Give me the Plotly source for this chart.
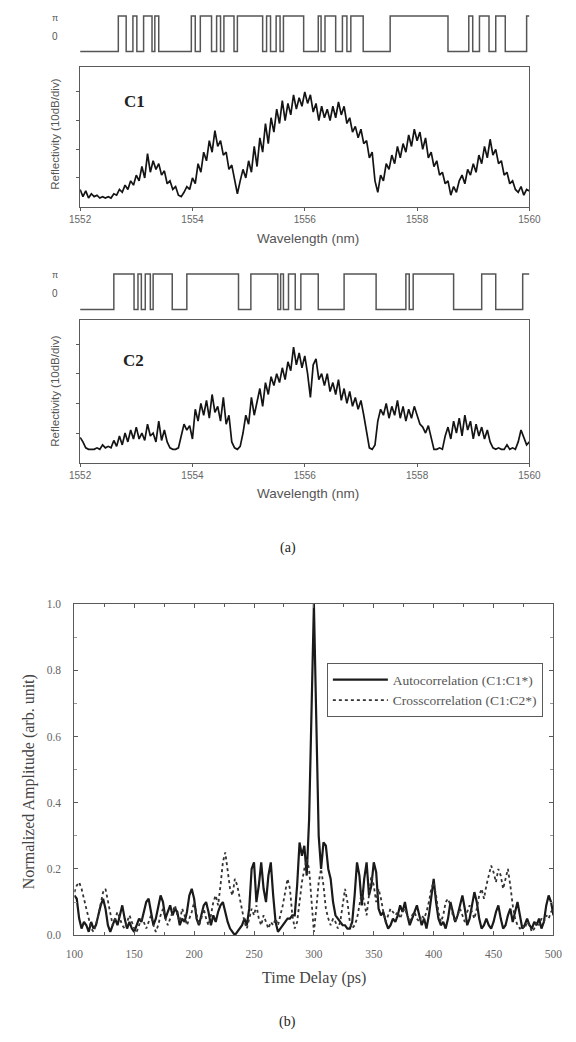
import numpy as np
import plotly.graph_objects as go

W, H = 576, 1042

# ---------------- data ----------------
wavelength_nm = np.round(np.arange(1552.0, 1560.0001, 0.05), 2)

c1_reflectivity = [
    0.6, 0.35, 0.55, 0.3, 0.45, 0.35, 0.4, 0.3, 0.35, 0.3,
    0.35, 0.3, 0.45, 0.4, 0.6, 0.5, 0.75, 0.6, 0.9, 0.75,
    1.1, 0.9, 1.4, 1.0, 1.85, 1.2, 1.6, 1.3, 1.5, 1.1,
    1.25, 0.8, 0.9, 0.6, 0.7, 0.4, 0.35, 0.5, 0.7, 0.6,
    1.0, 0.8, 1.5, 1.2, 1.9, 1.6, 2.3, 1.9, 2.65, 2.1,
    2.3, 1.8, 1.9, 1.3, 1.45, 1.0, 0.45, 0.9, 1.3, 1.0,
    1.6, 1.2, 2.1, 1.4, 2.4, 1.9, 2.9, 2.2, 3.1, 2.6,
    3.4, 2.9, 3.7, 3.0, 3.6, 3.2, 3.9, 3.4, 3.8, 3.5,
    4.0, 3.6, 3.9, 3.3, 3.6, 3.0, 3.5, 3.1, 3.4, 3.0,
    3.5, 3.1, 3.65, 3.2, 3.5, 2.9, 3.1, 2.6, 2.8, 2.4,
    2.7, 2.2, 2.3, 1.7, 1.9, 0.9, 0.5, 1.1, 0.9, 1.5,
    1.3, 1.8, 1.5, 2.1, 1.7, 2.2, 1.9, 2.5, 2.1, 2.7,
    2.3, 2.6, 2.0, 2.4, 1.7, 1.9, 1.4, 1.6, 1.1, 1.2,
    0.8, 0.9, 0.4, 0.7, 0.5, 0.9, 1.1, 0.8, 1.3, 1.1,
    1.5, 1.2, 1.8, 1.5, 2.1, 1.7, 2.35, 1.8, 2.0, 1.5,
    1.6, 1.1, 1.2, 0.8, 0.9, 0.6, 0.5, 0.7, 0.4, 0.6,
    0.55,
]

c2_reflectivity = [
    0.85, 0.7, 0.5, 0.45, 0.45, 0.45, 0.5, 0.45, 0.6, 0.5,
    0.55, 0.5, 0.75, 0.55, 0.9, 0.6, 1.0, 0.7, 1.1, 0.8,
    1.2, 0.8, 1.0, 0.75, 1.3, 0.9, 1.0, 0.7, 1.4, 0.75,
    1.1, 0.7, 0.5, 0.45, 0.45, 0.5, 0.9, 1.3, 1.1, 1.25,
    0.8, 1.8, 1.4, 2.0, 1.6, 2.1, 1.5, 2.3, 1.7, 1.9,
    1.4, 2.2, 1.3, 1.6, 0.7, 0.5, 0.45, 0.55, 1.0, 1.6,
    1.3, 2.2, 1.6, 2.0, 2.5, 1.9, 2.7, 2.3, 2.9, 2.6,
    3.0, 2.7, 3.2, 2.8, 3.4, 3.1, 3.9, 3.3, 3.7, 3.2,
    3.6, 3.0, 2.2, 3.3, 3.5, 2.8, 3.0, 2.6, 3.0, 2.4,
    2.7, 2.3, 2.8, 2.1, 2.5, 2.0, 2.4, 1.9, 2.2, 1.8,
    2.1, 1.6, 1.0, 0.5, 0.45, 0.6, 1.4, 1.8, 1.6, 2.0,
    1.5, 1.9, 1.6, 2.1, 1.5, 1.9, 1.4, 1.8, 1.5, 1.9,
    1.6, 1.3, 1.2, 1.0, 1.25, 0.8, 0.45, 0.45, 0.5, 0.45,
    0.9, 1.2, 0.8, 1.4, 1.0, 1.5, 0.9, 1.6, 1.1, 1.4,
    0.8, 1.3, 0.9, 1.2, 0.8, 1.1, 0.7, 0.5, 0.45, 0.5,
    0.45, 0.45, 0.6, 0.45, 0.5, 0.45, 0.7, 1.1, 0.85, 0.6,
    0.7,
]

# phase-code transitions (nm) of the two codes (start at 0, alternate 0/pi)
code1_edges_nm = [1552.68, 1552.82, 1552.94, 1553.01, 1553.13, 1553.28, 1553.33, 1553.40,
                  1553.98, 1554.05, 1554.14, 1554.34, 1554.43, 1554.50, 1554.56, 1554.74,
                  1554.80, 1555.25, 1555.32, 1555.39, 1555.49, 1555.56, 1555.62, 1555.98,
                  1556.24, 1556.29, 1556.36, 1556.55, 1556.67, 1556.75, 1556.82, 1557.04,
                  1557.52, 1558.55, 1558.92, 1558.99, 1559.11, 1559.28, 1559.40, 1559.57,
                  1559.95]
code2_edges_nm = [1552.60, 1552.96, 1553.03, 1553.09, 1553.16, 1553.25, 1553.30, 1553.64,
                  1553.90, 1554.82, 1555.04, 1555.52, 1555.57, 1555.62, 1555.71, 1555.83,
                  1555.93, 1556.24, 1556.70, 1557.27, 1557.80, 1557.86, 1557.93, 1558.65,
                  1559.15, 1559.40, 1559.88]

delay_ps = list(range(100, 501, 2))

autocorr = [
    0.12, 0.11, 0.05, 0.02, 0.04, 0.03, 0.01, 0.04, 0.02, 0.03,
    0.06, 0.09, 0.11, 0.08, 0.03, 0.01, 0.03, 0.05, 0.03, 0.06,
    0.09, 0.05, 0.02, 0.04, 0.02, 0.01, 0.03, 0.05, 0.04, 0.07,
    0.10, 0.11, 0.07, 0.03, 0.05, 0.09, 0.12, 0.10, 0.05, 0.07,
    0.09, 0.06, 0.08, 0.07, 0.03, 0.05, 0.04, 0.07, 0.12, 0.14,
    0.11, 0.05, 0.03, 0.06, 0.09, 0.10, 0.07, 0.03, 0.06, 0.04,
    0.07, 0.09, 0.10, 0.07, 0.04, 0.02, 0.01, 0.00, 0.01, 0.02,
    0.03, 0.05, 0.03, 0.08, 0.20, 0.22, 0.10, 0.15, 0.22, 0.14,
    0.10, 0.18, 0.22, 0.12, 0.04, 0.01, 0.02, 0.03, 0.04, 0.05,
    0.05, 0.06, 0.06, 0.15, 0.28, 0.24, 0.27, 0.18, 0.35, 0.70,
    1.00, 0.65, 0.30, 0.20, 0.28, 0.27, 0.20, 0.17, 0.10, 0.06,
    0.05, 0.04, 0.03, 0.03, 0.02, 0.02, 0.04, 0.12, 0.22, 0.18,
    0.09, 0.17, 0.22, 0.12, 0.15, 0.22, 0.19, 0.08, 0.06, 0.07,
    0.04, 0.02, 0.03, 0.05, 0.04, 0.06, 0.09, 0.07, 0.10, 0.06,
    0.03, 0.05, 0.07, 0.09, 0.06, 0.03, 0.05, 0.02, 0.06, 0.12,
    0.17, 0.10, 0.05, 0.03, 0.04, 0.02, 0.05, 0.10, 0.07, 0.04,
    0.06, 0.09, 0.12, 0.08, 0.03, 0.05, 0.09, 0.13, 0.10, 0.05,
    0.02, 0.03, 0.05, 0.03, 0.02, 0.04, 0.07, 0.09, 0.05, 0.02,
    0.03, 0.06, 0.08, 0.04, 0.07, 0.10, 0.06, 0.02, 0.03, 0.05,
    0.03, 0.02, 0.04, 0.03, 0.05, 0.02, 0.04, 0.09, 0.12, 0.10,
    0.06,
]

crosscorr = [
    0.13, 0.15, 0.16, 0.14, 0.11, 0.08, 0.05, 0.02, 0.01, 0.03,
    0.06, 0.10, 0.13, 0.14, 0.10, 0.06, 0.03, 0.05, 0.07, 0.05,
    0.03, 0.02, 0.04, 0.06, 0.04, 0.02, 0.01, 0.03, 0.05, 0.04,
    0.02, 0.04, 0.06, 0.03, 0.01, 0.03, 0.06, 0.08, 0.05, 0.03,
    0.05, 0.07, 0.09, 0.06, 0.04, 0.08, 0.06, 0.03, 0.05, 0.07,
    0.10, 0.06, 0.03, 0.05, 0.08, 0.05, 0.03, 0.06, 0.10, 0.12,
    0.09, 0.15, 0.22, 0.25, 0.20, 0.14, 0.12, 0.17, 0.15, 0.11,
    0.07, 0.04, 0.02, 0.05, 0.08, 0.06, 0.09, 0.05, 0.03, 0.06,
    0.04, 0.02, 0.04, 0.03, 0.05, 0.03, 0.06, 0.09, 0.13, 0.17,
    0.14, 0.06, 0.02, 0.04, 0.10, 0.16, 0.20, 0.23, 0.20, 0.09,
    0.01, 0.08, 0.16, 0.20, 0.15, 0.08, 0.05, 0.03, 0.05, 0.04,
    0.02, 0.04, 0.09, 0.14, 0.10, 0.04, 0.02, 0.03, 0.05, 0.09,
    0.13, 0.10, 0.06, 0.12, 0.18, 0.15, 0.10, 0.14, 0.11, 0.07,
    0.04, 0.06, 0.08, 0.07, 0.06, 0.07, 0.05, 0.07, 0.08, 0.06,
    0.04, 0.06, 0.07, 0.05, 0.04, 0.06, 0.05, 0.07, 0.10, 0.14,
    0.16, 0.12, 0.07, 0.04, 0.06, 0.10, 0.11, 0.09, 0.06, 0.04,
    0.06, 0.08, 0.06, 0.04, 0.07, 0.09, 0.07, 0.05, 0.08, 0.12,
    0.14, 0.11, 0.15, 0.18, 0.21, 0.19, 0.16, 0.20, 0.18, 0.14,
    0.17, 0.20, 0.15, 0.09, 0.05, 0.03, 0.02, 0.03, 0.02, 0.04,
    0.03, 0.01, 0.02, 0.04, 0.03, 0.05, 0.04, 0.06, 0.05, 0.07,
    0.08,
]

wl_ticks = [1552, 1554, 1556, 1558, 1560]

# ---------------- helpers ----------------
def px_x(p):
    return p / W


def px_y(p):
    return 1 - p / H


def code_trace(edges, xa, ya):
    xs = [1552.0] + list(edges) + [1560.0]
    ys = [0]
    lvl = 0
    for _ in edges:
        lvl = 1 - lvl
        ys.append(lvl)
    ys.append(lvl)
    return go.Scatter(x=xs, y=ys, mode="lines", line=dict(color="#555555", width=1.5, shape="hv"),
                      xaxis=xa, yaxis=ya, showlegend=False, hoverinfo="skip")


fig = go.Figure()
fig.add_trace(code_trace(code1_edges_nm, "x", "y"))
fig.add_trace(go.Scatter(x=wavelength_nm, y=c1_reflectivity, mode="lines",
                         line=dict(color="#141414", width=1.7), xaxis="x2", yaxis="y2", showlegend=False))
fig.add_trace(code_trace(code2_edges_nm, "x3", "y3"))
fig.add_trace(go.Scatter(x=wavelength_nm, y=c2_reflectivity, mode="lines",
                         line=dict(color="#141414", width=1.7), xaxis="x4", yaxis="y4", showlegend=False))
fig.add_trace(go.Scatter(x=delay_ps, y=autocorr, mode="lines", name="Autocorrelation (C1:C1*)",
                         line=dict(color="#1a1a1a", width=2.2), xaxis="x5", yaxis="y5"))
fig.add_trace(go.Scatter(x=delay_ps, y=crosscorr, mode="lines", name="Crosscorrelation (C1:C2*)",
                         line=dict(color="#333333", width=1.8, dash="dot"), xaxis="x5", yaxis="y5"))

frame = "#5a5a5a"
sans = "Liberation Sans, Arial, sans-serif"
serif = "Liberation Serif, Times New Roman, serif"
xdom_a = [px_x(72), px_x(540)]

hidden = dict(visible=False, showgrid=False, zeroline=False)

spec_x = dict(domain=xdom_a, range=[1552, 1560], tickvals=wl_ticks, ticks="outside", ticklen=3,
              tickcolor=frame, showline=True, linecolor=frame, linewidth=1, mirror=True,
              showgrid=False, zeroline=False, tickfont=dict(family=sans, size=10, color="#666"))
spec_y = dict(tickvals=[1, 2, 3, 4], showticklabels=False, ticks="outside", ticklen=3, tickcolor=frame,
              showline=True, linecolor=frame, linewidth=1, mirror=True, showgrid=False, zeroline=False)

fig.update_layout(
    width=W, height=H, margin=dict(l=0, r=0, t=0, b=0),
    paper_bgcolor="white", plot_bgcolor="white",
    xaxis=dict(domain=xdom_a, range=[1552, 1560], anchor="y", **hidden),
    yaxis=dict(domain=[px_y(50), px_y(6)], range=[-0.111, 1.111], anchor="x", **hidden),
    xaxis2=dict(anchor="y2", **spec_x),
    yaxis2=dict(domain=[px_y(203), px_y(62)], range=[0, 4.86], anchor="x2", **spec_y),
    xaxis3=dict(domain=xdom_a, range=[1552, 1560], anchor="y3", **hidden),
    yaxis3=dict(domain=[px_y(311), px_y(265)], range=[-0.111, 1.167], anchor="x3", **hidden),
    xaxis4=dict(anchor="y4", **spec_x),
    yaxis4=dict(domain=[px_y(462), px_y(318)], range=[0, 4.8], anchor="x4", **spec_y),
    xaxis5=dict(domain=[px_x(66), px_x(565)], range=[100, 500], anchor="y5", dtick=50, ticks="inside",
                ticklen=4, tickcolor=frame, showline=True, linecolor=frame, linewidth=1, mirror="ticks",
                showgrid=False, zeroline=False, minor=dict(dtick=25, ticks="inside", ticklen=3, tickcolor=frame),
                ticklabelstandoff=8,
                tickfont=dict(family=serif, size=11.5, color="#666")),
    yaxis5=dict(domain=[px_y(940), px_y(605)], range=[0, 1.0], anchor="x5", dtick=0.2, tickformat=".1f",
                ticks="inside", ticklen=4, tickcolor=frame, showline=True, linecolor=frame, linewidth=1,
                mirror="ticks", showgrid=False, zeroline=False,
                minor=dict(dtick=0.1, ticks="inside", ticklen=3, tickcolor="#999"),
                ticklabelstandoff=10,
                tickfont=dict(family=serif, size=11.5, color="#666")),
    legend=dict(x=px_x(329), y=px_y(665), xanchor="left", yanchor="top", bordercolor=frame, borderwidth=1,
                bgcolor="white", font=dict(family=serif, size=13.5, color="#555"), tracegroupgap=0,
                itemwidth=55),
)


def ann(text, x, y, size, family=sans, color="#444", angle=0, bold=False):
    if bold:
        text = "<b>" + text + "</b>"
    fig.add_annotation(text=text, x=px_x(x), y=px_y(y), xref="paper", yref="paper", showarrow=False,
                       textangle=angle, font=dict(family=family, size=size, color=color),
                       xanchor="center", yanchor="middle")


# code labels
ann("π", 46, 12, 9, color="#555")
ann("0", 46, 31, 10, color="#555")
ann("π", 46, 272, 9, color="#555")
ann("0", 46, 291, 10, color="#555")
# panel labels
ann("C1", 129, 97, 17, family=serif, color="#222", bold=True)
ann("C2", 128, 359, 17, family=serif, color="#222", bold=True)
ann("Reflectivity (10dB/div)", 45, 130, 11.5, color="#555", angle=-90)
ann("Reflectivity (10dB/div)", 45, 390, 11.5, color="#555", angle=-90)
ann("Wavelength (nm)", 309, 235, 13.5, color="#555")
ann("Wavelength (nm)", 309, 493, 13.5, color="#555")
ann("(a)", 288, 548, 14, family=serif, color="#222")
ann("Normalized Amplitude (arb. unit)", 19, 785, 16, family=serif, color="#444", angle=-90)
ann("Time Delay (ps)", 316, 983, 16, family=serif, color="#444")
ann("(b)", 288, 1028, 14, family=serif, color="#222")

fig.write_html("out.html")
